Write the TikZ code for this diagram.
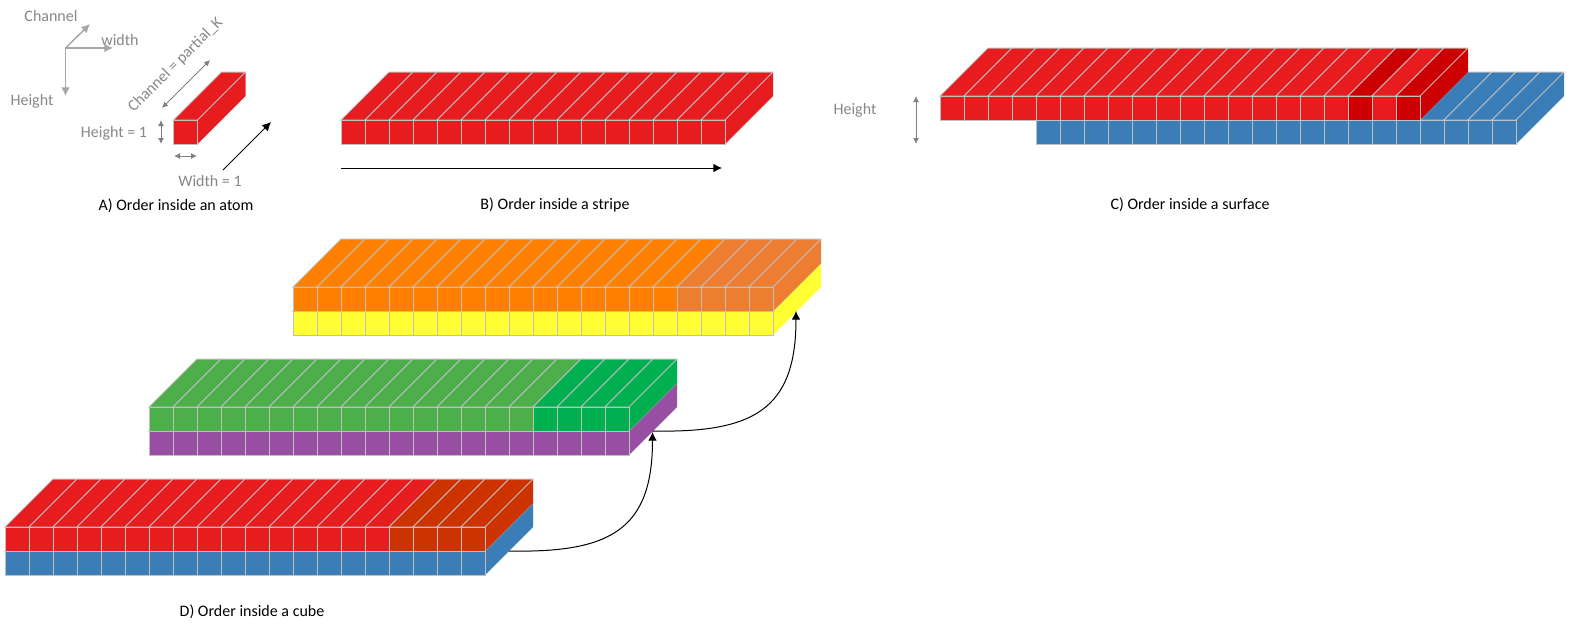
\documentclass[tikz,border=0pt]{standalone}
\usepackage{fontspec}
\setmainfont{Carlito}
\usepackage{tikz}
\usetikzlibrary{arrows.meta}
\definecolor{cubered}{HTML}{E71C1F}
\definecolor{darkred}{HTML}{CC0000}
\definecolor{rust}{HTML}{CC3300}
\definecolor{cubeblue}{HTML}{3A7DB7}
\definecolor{cubeyellow}{HTML}{FFFF33}
\definecolor{cubeorange}{HTML}{FF7F00}
\definecolor{paleorange}{HTML}{ED7D31}
\definecolor{cubegreen}{HTML}{4DAF4A}
\definecolor{deepgreen}{HTML}{00B050}
\definecolor{cubepurple}{HTML}{984EA3}
\definecolor{gridgray}{HTML}{BFBFBF}
\definecolor{axisgray}{HTML}{A6A6A6}
\definecolor{namegray}{HTML}{878787}
\tikzset{
  cellgrid/.style={draw=gridgray,line width=0.75pt},
  caption/.style={font=\fontsize{12}{14}\selectfont,text=black},
  grayname/.style={font=\fontsize{12}{14}\selectfont,text=namegray},
  axisline/.style={draw=axisgray,line width=1.1pt,-{Latex[length=6.5pt,width=6.5pt]}},
  span/.style={draw=gray,line width=0.75pt,{Latex[length=4.5pt,width=4.5pt]}-{Latex[length=4.5pt,width=4.5pt]}},
  flow/.style={draw=black,line width=0.75pt,-{Latex[length=6.5pt,width=6.5pt]}}
}
% one cell: x, y of the front top left corner, colour
\newcommand{\atom}[3]{
  \fill[#3] ({#1+24},{#2}) -- ({#1+72},{#2-48}) -- ({#1+72},{#2-24}) -- ({#1+24},{#2+24}) -- cycle;
  \filldraw[cellgrid,fill=#3] ({#1},{#2}) -- ({#1+48},{#2-48}) -- ({#1+72},{#2-48}) -- ({#1+24},{#2}) -- cycle;
  \filldraw[cellgrid,fill=#3] ({#1},{#2}) rectangle ({#1+24},{#2+24});
}
\newcommand{\atomrow}[4]{
  \foreach \i in {1,...,#3} {
    \atom{#1+24*(\i-1)}{#2}{#4}
  }
}
\begin{document}
\begin{tikzpicture}[x=0.75pt,y=-0.75pt]
  \useasboundingbox (0,0) rectangle (1570,629);
  \coordinate (O) at (65.5,48);
  \coordinate (axC) at (90,24);
  \coordinate (axW) at (113,48);
  \coordinate (axH) at (65.5,96);
  \coordinate (redout) at (509,551);
  \coordinate (greenin) at (652.5,432);
  \coordinate (greenout) at (652.5,431);
  \coordinate (yellowin) at (796,311);

  % A) atom
  \draw[axisline] (O) -- (axC);
  \draw[axisline] (O) -- (axW);
  \draw[axisline] (O) -- (axH);
  \node[grayname] (chlabel) at (51,16) {Channel};
  \node[grayname] (wlabel) at (120,40) {width};
  \node[grayname] (hlabel) at (32,101) {Height};
  \atom{173.5}{120}{cubered}
  \coordinate (cha) at (162,108);
  \coordinate (chb) at (210,60);
  \coordinate (ha) at (161,120);
  \coordinate (hb) at (161,144);
  \coordinate (wa) at (174,156);
  \coordinate (wb) at (197,156);
  \coordinate (da) at (223,170);
  \coordinate (db) at (271,122);
  \draw[span] (cha) -- (chb);
  \draw[span] (ha) -- (hb);
  \draw[span] (wa) -- (wb);
  \draw[flow] (da) -- (db);
  \node[grayname,rotate=45] (chsize) at (175.5,65) {Channel = partial\_K};
  \node[grayname] (hsize) at (114,133) {Height = 1};
  \node[grayname] (wsize) at (210,181) {Width = 1};
  \node[caption] (capA) at (176,206) {A) Order inside an atom};

  % B) stripe
  \atomrow{341}{120}{16}{cubered}
  \coordinate (ba) at (341,168);
  \coordinate (bb) at (722,168);
  \draw[flow] (ba) -- (bb);
  \node[caption] (capB) at (555,205) {B) Order inside a stripe};

  % C) surface
  \atomrow{1036}{120}{20}{cubeblue}
  \atomrow{940}{96}{17}{cubered}
  \atom{1348}{96}{darkred}
  \atom{1372}{96}{cubered}
  \atom{1396}{96}{darkred}
  \coordinate (ca) at (916,96);
  \coordinate (cb) at (916,144);
  \draw[span] (ca) -- (cb);
  \node[grayname] (hname) at (855,110) {Height};
  \node[caption] (capC) at (1190,205) {C) Order inside a surface};

  % D) cube
  \atomrow{293}{311}{20}{cubeyellow}
  \atomrow{293}{287}{16}{cubeorange}
  \atomrow{677}{287}{4}{paleorange}
  \atomrow{149}{431}{20}{cubepurple}
  \atomrow{149}{407}{16}{cubegreen}
  \atomrow{533}{407}{4}{deepgreen}
  \atomrow{5}{551}{20}{cubeblue}
  \atomrow{5}{527}{16}{cubered}
  \atomrow{389}{527}{4}{rust}
  \draw[flow] (redout) .. controls (610,553) and (652.5,530) .. (greenin);
  \draw[flow] (greenout) .. controls (753,433) and (796,410) .. (yellowin);
  \node[caption] (capD) at (252,612) {D) Order inside a cube};
\end{tikzpicture}
\end{document}
